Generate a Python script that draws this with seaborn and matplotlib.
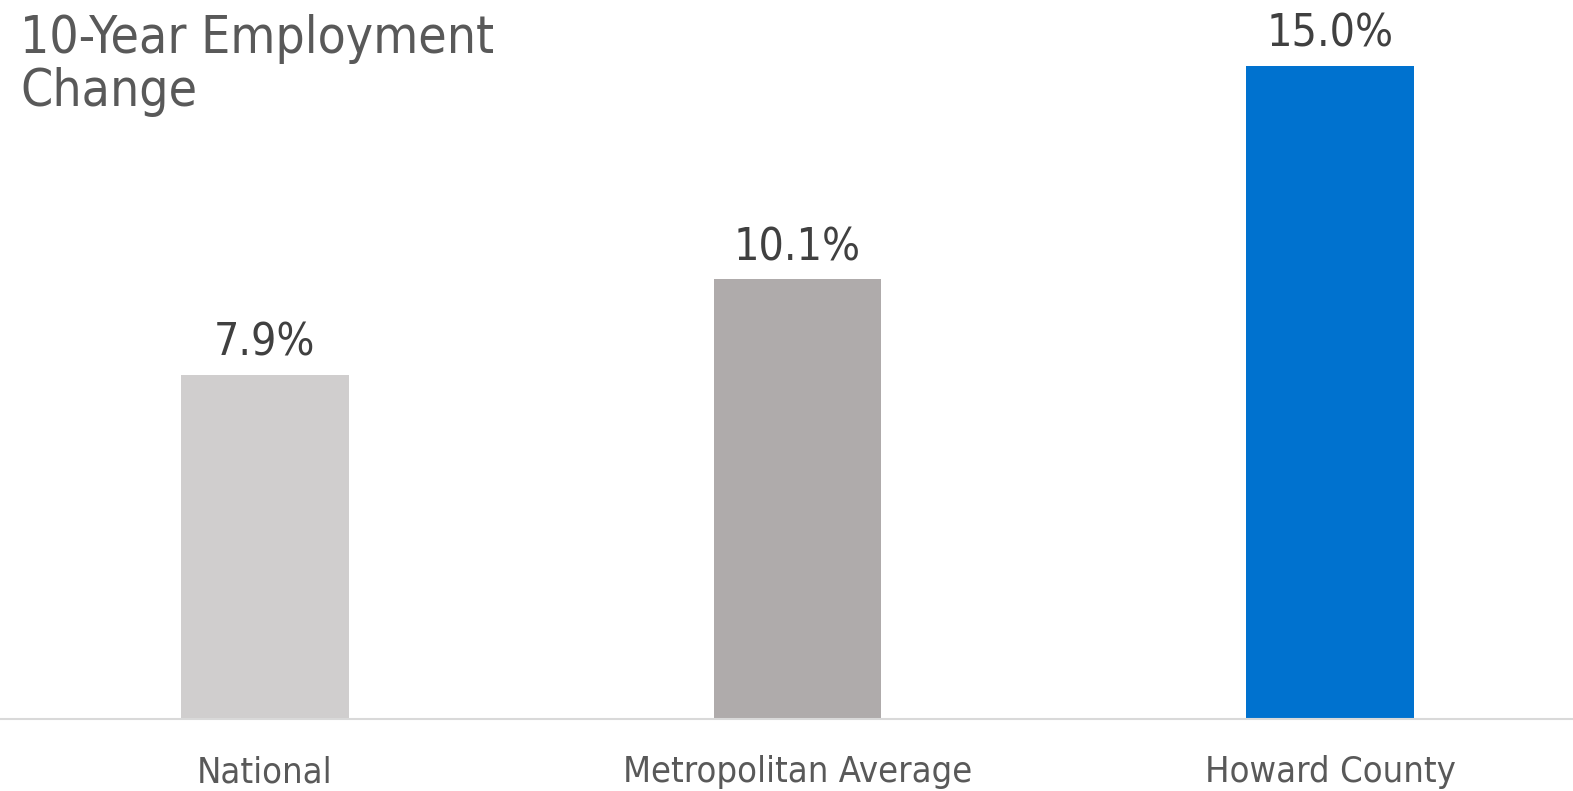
import matplotlib
matplotlib.use("Agg")
import matplotlib.pyplot as plt
import seaborn as sns
import pandas as pd

categories = ["National", "Metropolitan Average", "Howard County"]
values = [7.9, 10.1, 15.0]
bar_colors = ["#D0CECE", "#AFABAB", "#0072CF"]
title_lines = ["10-Year Employment", "Change"]

sns.set_theme(style="white")
plt.rcParams['font.family'] = ['DejaVu Sans']
plt.rcParams['font.stretch'] = 'condensed'

df = pd.DataFrame({"category": categories, "value": values})

W, H = 1573, 791
fig = plt.figure(figsize=(W / 100, H / 100), dpi=100)
base_y = 719.0
ax = fig.add_axes([0, (H - base_y) / H, 1, base_y / H])

sns.barplot(data=df, x="category", y="value", hue="category",
            palette=bar_colors, legend=False, width=0.315, ax=ax,
            saturation=1, linewidth=0)

spacing = 532.7
x0 = -264.8 / spacing
ax.set_xlim(x0, x0 + W / spacing)
px_per_unit = 43.55
ax.set_ylim(0, base_y / px_per_unit)

for s in ["top", "right", "left"]:
    ax.spines[s].set_visible(False)
ax.spines["bottom"].set_color("#D9D9D9")
ax.spines["bottom"].set_linewidth(1.5)
ax.set_yticks([])
ax.set_xlabel("")
ax.set_ylabel("")
ax.tick_params(axis="x", length=0, pad=26, labelsize=26, labelcolor="#595959")

for i, v in enumerate(values):
    ax.annotate(f"{v:.1f}%", xy=(i, v), xytext=(0, 19), textcoords="offset pixels",
                ha="center", va="baseline", fontsize=32, color="#404040")

for k, line in enumerate(title_lines):
    fig.text(20 / W, 1 - (52.5 + 53.5 * k) / H, line, ha="left", va="baseline",
             fontsize=37, color="#595959")

fig.savefig("out.png", dpi=100)
